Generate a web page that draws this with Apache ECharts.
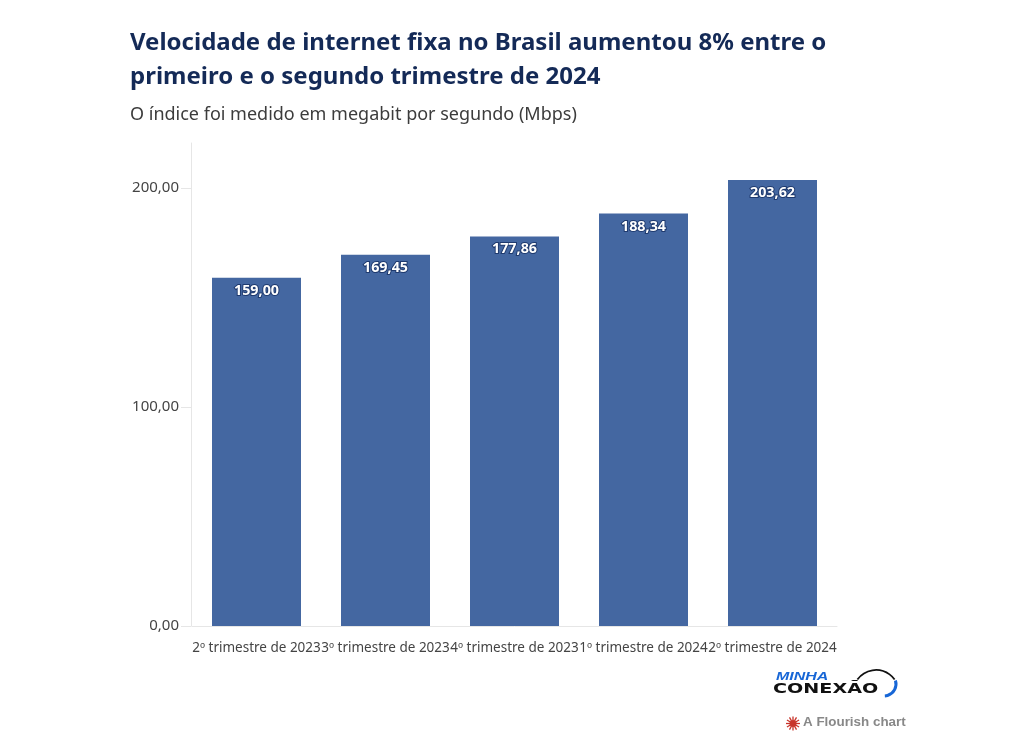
<!DOCTYPE html>
<html><head><meta charset="utf-8">
<style>html,body{margin:0;padding:0;background:#fff}#c{width:1024px;height:755px}</style>
<script src="https://cdn.jsdelivr.net/npm/echarts@6/dist/echarts.min.js"></script></head>
<body><div id="c"></div>
<script>
const categories = ['2º trimestre de 2023','3º trimestre de 2023','4º trimestre de 2023','1º trimestre de 2024','2º trimestre de 2024'];
const speeds = [159.00,169.45,177.86,188.34,203.62];
const yTicks = [0,100,200];
const titleLines = ['Velocidade de internet fixa no Brasil aumentou 8% entre o','primeiro e o segundo trimestre de 2024'];
const subtitle = 'O índice foi medido em megabit por segundo (Mbps)';
const fmt = v => v.toFixed(2).replace('.',',');
const FONT = '"Noto Sans"';
const chart = echarts.init(document.getElementById('c'),null,{renderer:'canvas'});
const rays = [];
for(let i=0;i<12;i++){const a=i*Math.PI/6;rays.push({type:'line',shape:{x1:793+Math.cos(a)*3,y1:723.5+Math.sin(a)*3,x2:793+Math.cos(a)*7,y2:723.5+Math.sin(a)*7},style:{stroke:'#c8352b',lineWidth:1.3}});}
chart.setOption({
  animation:false,
  backgroundColor:'#fff',
  title:[
    {text:titleLines.join('\n'),left:125,top:21,textStyle:{fontFamily:FONT,fontSize:24,fontWeight:700,color:'#142a57',lineHeight:34}},
    {text:subtitle,left:125,top:101,textStyle:{fontFamily:FONT,fontSize:18,fontWeight:400,color:'#3c3c3c'}}
  ],
  grid:{left:192,right:187,top:143,bottom:129},
  xAxis:{type:'category',data:categories,
    axisLine:{lineStyle:{color:'#e6e6e6',width:1}},axisTick:{show:false},
    axisLabel:{interval:0,margin:15,fontFamily:FONT,fontSize:13.5,color:'#444',hideOverlap:false}},
  yAxis:{type:'value',min:0,max:220.5,offset:1,
    axisLine:{show:true,lineStyle:{color:'#e6e6e6',width:1}},
    axisTick:{show:true,length:10,lineStyle:{color:'#e6e6e6'},customValues:yTicks},
    splitLine:{show:false},
    axisLabel:{customValues:yTicks,margin:12,padding:[6,0,0,0],formatter:fmt,fontFamily:FONT,fontSize:15,color:'#444'}},
  series:[{type:'bar',data:speeds,barWidth:89,
    itemStyle:{color:'#4467a1'},
    label:{show:true,position:'insideTop',distance:5,padding:[1,0,0,0],formatter:p=>fmt(p.value),fontFamily:FONT,fontSize:14.3,fontWeight:700,color:'#fff',textBorderColor:'#1f3a6e',textBorderWidth:2}}],
  graphic:[
    {type:'text',x:776,y:671,scaleX:1.45,style:{text:'MINHA',font:'italic 900 11px "Liberation Sans"',fill:'#1766d6'}},
    {type:'text',x:773,y:682,scaleX:1.32,style:{text:'CONEXÃO',font:'900 14.5px "DejaVu Sans"',fill:'#111'}},
    {type:'arc',shape:{cx:876,cy:693,r:23,startAngle:Math.PI*1.2,endAngle:Math.PI*1.8},style:{stroke:'#111',lineWidth:1.8,fill:null}},
    {type:'arc',shape:{cx:884,cy:684,r:12,startAngle:-0.3,endAngle:1.5},style:{stroke:'#1766d6',lineWidth:3,fill:null}},
    ...rays,
    {type:'circle',shape:{cx:793,cy:723.5,r:3.5},style:{fill:'#c8352b'}},
    {type:'text',x:803,y:716,style:{text:'A Flourish chart',font:'700 13.4px "Liberation Sans"',fill:'#888'}}
  ]
});
</script></body></html>
